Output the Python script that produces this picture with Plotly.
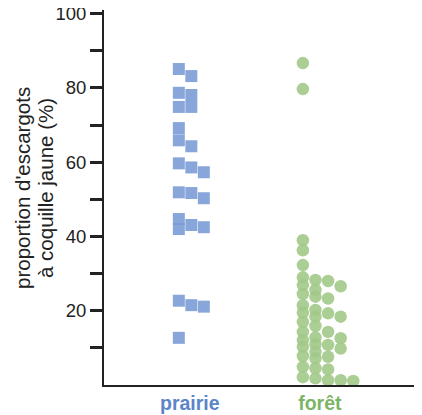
import plotly.graph_objects as go

# ---- data ----
categories = ["prairie", "forêt"]
prairie_values = [85.1, 83.2, 78.7, 78.1, 74.9, 74.9, 69.2, 65.9, 64.3, 59.7, 58.6,
                  57.3, 51.9, 51.7, 50.3, 44.7, 43.1, 42.5, 42.0, 22.7, 21.5, 21.1, 12.7]
foret_values = [86.7, 79.7, 39.0, 36.3, 32.3, 29.0, 28.3, 28.0, 26.9, 26.6, 25.6,
                24.5, 23.8, 23.3, 21.5, 20.2, 19.5, 19.3, 18.4, 18.4, 17.0, 15.9,
                14.3, 14.3, 12.8, 12.6, 12.1, 11.0, 10.8, 10.3, 9.8, 9.0, 7.8, 7.6,
                7.2, 4.9, 4.5, 4.2, 2.1, 1.8, 1.3, 1.3, 1.1]
y_tick_vals = [20, 40, 60, 80, 100]
y_minor_vals = [10, 30, 50, 70, 90]
y_title_lines = ["proportion d'escargots", "à coquille jaune (%)"]

# ---- layout geometry (page body has an 8px margin) ----
W, H = 414, 407
ML, MR, MT, MB = 96, 2, 2, 30
x_range = [-0.66, 1.77]
y_range = [0, 101]
PW, PH = W - ML - MR, H - MT - MB
ppx = PW / (x_range[1] - x_range[0])
ppy = PH / (y_range[1] - y_range[0])


def swarm(values, base_px, step_px, gap_px):
    """Column beeswarm: each point goes to the first column with room for it."""
    cols = []
    xs = [0.0] * len(values)
    order = sorted(range(len(values)), key=lambda i: -values[i])
    for i in order:
        ypx = values[i] * ppy
        c = 0
        while True:
            if c == len(cols):
                cols.append([])
            if all(abs(ypx - q) >= gap_px for q in cols[c]):
                break
            c += 1
        cols[c].append(ypx)
        xs[i] = (base_px + c * step_px) / ppx
    return xs


prairie_x = [0 + v for v in swarm(prairie_values, -11, 12.5, 10)]
foret_x = [1 + v for v in swarm(foret_values, -17, 12.6, 6.5)]

blue = "#7c9cd6"
green = "#a2c988"

fig = go.Figure()
fig.add_trace(go.Scatter(
    x=prairie_x, y=prairie_values, mode="markers",
    marker=dict(symbol="square", size=12, color=blue, opacity=0.9, line=dict(width=0)),
    showlegend=False, hoverinfo="y"))
fig.add_trace(go.Scatter(
    x=foret_x, y=foret_values, mode="markers",
    marker=dict(symbol="circle", size=12.5, color=green, opacity=0.9, line=dict(width=0)),
    showlegend=False, hoverinfo="y"))

font_family = "Arial, Liberation Sans, Helvetica, sans-serif"

# two-line rotated y title as annotations (tighter line spacing than axis title)
title_cy = (H - MB - 180) / PH
for line, cx in zip(y_title_lines, [14, 37]):
    fig.add_annotation(
        text=line, xref="paper", yref="paper",
        x=(cx - ML) / PW, y=title_cy, xanchor="center", yanchor="middle",
        textangle=-90, showarrow=False,
        font=dict(size=20.5, family=font_family, color="#222222"))

fig.update_layout(
    width=W, height=H,
    margin=dict(l=ML, r=MR, t=MT, b=MB, autoexpand=False),
    paper_bgcolor="white", plot_bgcolor="white",
    font=dict(family=font_family, color="#222222", size=18),
    xaxis=dict(
        range=x_range, showgrid=False, zeroline=False, automargin=False,
        showline=True, linecolor="#222222", linewidth=2,
        tickvals=[0, 1],
        ticktext=[f'<b><span style="color:#5b84c9">{categories[0]}</span></b>',
                  f'<b><span style="color:#7cb565">{categories[1]}</span></b>'],
        ticks="", tickfont=dict(size=19.5),
    ),
    yaxis=dict(
        range=y_range, showgrid=False, zeroline=False, automargin=False,
        showline=True, linecolor="#222222", linewidth=2,
        tickmode="array", tickvals=y_tick_vals,
        ticks="outside", ticklen=12, tickwidth=2.5, tickcolor="#222222",
        tickfont=dict(size=18.5), ticklabeloverflow="allow",
        minor=dict(tickmode="array", tickvals=y_minor_vals, ticks="outside",
                   ticklen=12, tickwidth=2.5, tickcolor="#222222"),
    ),
)

fig.write_html("out.html")
